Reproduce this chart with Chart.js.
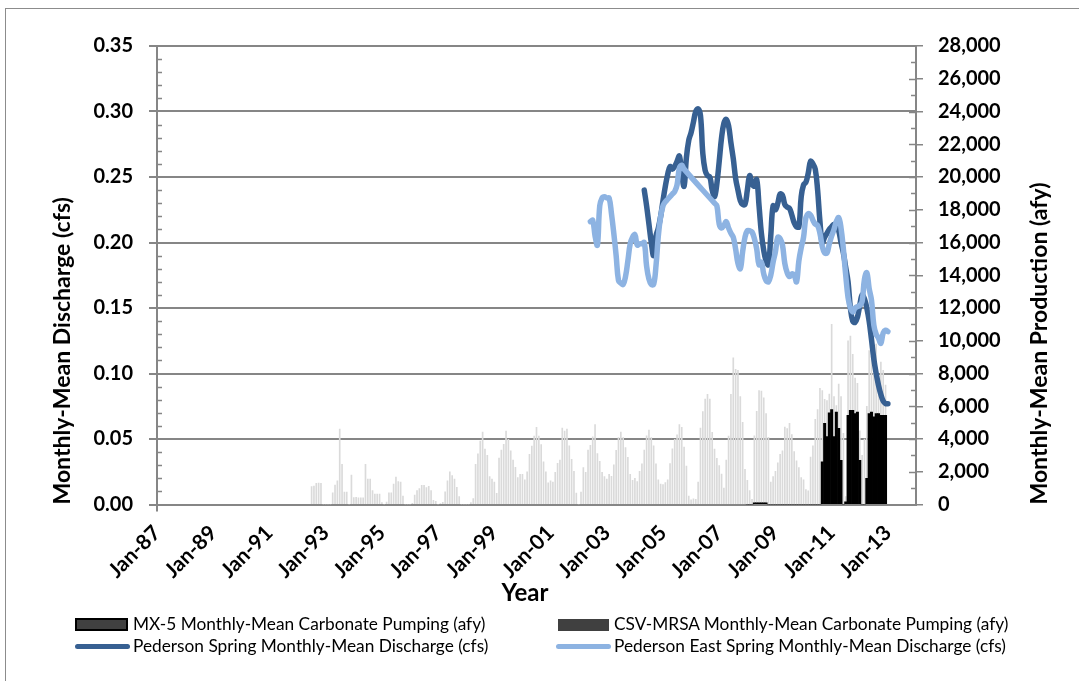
<!DOCTYPE html>
<html>
<head>
<meta charset="utf-8">
<script src="https://cdn.jsdelivr.net/npm/chart.js@4.4.1/dist/chart.umd.min.js"></script>
<style>
  html, body { margin: 0; padding: 0; background: #fff; }
  #wrap { position: relative; width: 1079px; height: 681px; overflow: hidden; font-family: Lato, "Noto Sans", sans-serif; }
  #frame { position: absolute; left: 5px; top: 8px; width: 1200px; height: 800px; border-left: 1px solid #8c8c8c; border-top: 1px solid #8c8c8c; }
  #chart { position: absolute; left: 0; top: 0; }
  .key { position: absolute; height: 20px; line-height: 20px; font-size: 17.3px; color: #000; white-space: nowrap; }
  .swatch { position: absolute; }
</style>
</head>
<body>
<div id="wrap">
  <div id="frame"></div>
  <canvas id="chart" width="1079" height="681"></canvas>

  <div class="swatch" style="left:75px;top:618px;width:49px;height:9px;background:#404040;border:2px solid #000;"></div>
  <div class="key" style="left:133px;top:614px;">MX-5 Monthly-Mean Carbonate Pumping (afy)</div>
  <div class="swatch" style="left:558px;top:619px;width:51px;height:12px;background:#404040;"></div>
  <div class="key" style="left:614px;top:614px;">CSV-MRSA Monthly-Mean Carbonate Pumping (afy)</div>

  <div class="swatch" style="left:75px;top:644px;width:55px;height:5px;background:#376092;border-radius:3px;"></div>
  <div class="key" style="left:133px;top:636px;">Pederson Spring Monthly-Mean Discharge (cfs)</div>
  <div class="swatch" style="left:556px;top:644px;width:55px;height:5px;background:#8db3e2;border-radius:3px;"></div>
  <div class="key" style="left:614px;top:636px;">Pederson East Spring Monthly-Mean Discharge (cfs)</div>
</div>

<script>
// Month axis: Jan-87 through Jan-14
const MONTH_NAMES = ['Jan', 'Feb', 'Mar', 'Apr', 'May', 'Jun', 'Jul', 'Aug', 'Sep', 'Oct', 'Nov', 'Dec'];
const monthLabels = [];
for (let yr = 1987; yr < 2014; yr++) {
  for (let m = 0; m < 12; m++) monthLabels.push(MONTH_NAMES[m] + '-' + String(yr % 100).padStart(2, '0'));
}
monthLabels.push('Jan-14');

// CSV-MRSA monthly-mean carbonate pumping (afy), Jul-92 .. Dec-12
const csvStart = 'Jul-92';
const csvPumping = [
  1090, 1130, 1290, 1310, 1290, 0,                                  // 1992 Jul-Dec
  0, 0, 0, 720, 1190, 1440, 4610, 2450, 760, 760, 0, 1800,          // 1993
  420, 440, 400, 400, 400, 2450, 1560, 1560, 850, 640, 640, 640,    // 1994
  110, 0, 150, 720, 720, 1250, 1680, 1400, 1370, 520, 0, 0,         // 1995
  0, 70, 580, 850, 970, 1170, 1170, 1030, 1110, 850, 250, 190,      // 1996
  0, 50, 130, 780, 1440, 2000, 1760, 1560, 1050, 480, 0, 0,         // 1997
  0, 0, 110, 360, 2450, 3090, 3880, 4430, 3390, 3000, 1700, 1560,   // 1998
  1370, 680, 2840, 3330, 3680, 4490, 3980, 3270, 2720, 2270, 1640, 1840, // 1999
  1840, 1500, 2000, 3060, 3570, 4180, 4710, 4180, 3660, 2600, 1990, 1330, // 2000
  1440, 1370, 1970, 2510, 2720, 4670, 4490, 4610, 3590, 2760, 2030, 700,  // 2001
  0, 760, 2250, 1970, 3330, 3610, 4140, 4880, 3110, 2640, 1970, 1700,     // 2002
  1560, 1840, 1720, 2430, 3310, 4080, 4430, 4080, 3470, 2880, 1840, 1480, // 2003
  1600, 1400, 2030, 2490, 3330, 4200, 4550, 4080, 3590, 2490, 1500, 1250, // 2004
  1210, 1340, 1500, 2500, 3400, 3980, 4250, 4880, 4710, 3510, 2350, 520,  // 2005
  280, 340, 320, 1370, 4670, 5670, 6440, 6730, 6440, 4410, 3390, 2820,    // 2006
  2370, 1860, 1010, 2720, 4180, 6730, 8950, 8260, 8200, 6590, 5020, 2150, // 2007
  1480, 850, 320, 4200, 5690, 6950, 6930, 6510, 5550, 4100, 1370, 1700,   // 2008
  2030, 2540, 3060, 3270, 4730, 4630, 4960, 4270, 3230, 2660, 2250, 1640, // 2009
  1500, 910, 830, 2900, 3590, 5200, 5790, 7100, 6950, 6420, 6340, 6750,   // 2010
  11000, 6590, 6040, 7360, 6590, 4350, 480, 10000, 10290, 9170, 7720, 7400, // 2011
  4500, 3000, 4000, 6000, 9400, 9070, 8000, 9800, 7000, 8700, 8200, 7300  // 2012
];

// MX-5 monthly-mean carbonate pumping (afy), Jan-08 .. Dec-12
const mx5Start = 'Jan-08';
const mx5Pumping = [
  0, 0, 0, 100, 100, 100, 100, 100, 100, 0, 0, 0,                   // 2008
  0, 0, 0, 0, 0, 0, 0, 0, 0, 0, 0, 0,                               // 2009
  0, 0, 0, 0, 0, 0, 0, 0, 2600, 4950, 4150, 5600,                   // 2010
  5800, 4150, 5650, 4650, 2700, 0, 170, 5450, 5750, 5750, 5550, 5650, // 2011
  2700, 0, 0, 1600, 5550, 5650, 5350, 5550, 5550, 5450, 5450, 5450  // 2012
];

// Pederson Spring monthly-mean discharge (cfs), May-04 .. Jan-13
const pedersonStart = 'May-04';
const pedersonSpring = [
  0.240, 0.228, 0.214, 0.200, 0.190, 0.205, 0.211, 0.220,                         // 2004 May-Dec
  0.232, 0.243, 0.252, 0.258, 0.256, 0.258, 0.262, 0.266, 0.252, 0.243, 0.265, 0.278, // 2005
  0.284, 0.292, 0.300, 0.302, 0.297, 0.268, 0.255, 0.251, 0.250, 0.240, 0.235, 0.245, // 2006
  0.262, 0.280, 0.291, 0.294, 0.289, 0.276, 0.264, 0.249, 0.240, 0.232, 0.229, 0.229, // 2007
  0.240, 0.251, 0.245, 0.243, 0.248, 0.228, 0.207, 0.194, 0.186, 0.183, 0.205, 0.228, // 2008
  0.225, 0.230, 0.237, 0.236, 0.229, 0.227, 0.226, 0.221, 0.215, 0.212, 0.212, 0.235, // 2009
  0.244, 0.246, 0.253, 0.262, 0.260, 0.256, 0.240, 0.216, 0.200, 0.204, 0.207, 0.210, // 2010
  0.212, 0.214, 0.212, 0.209, 0.200, 0.192, 0.181, 0.170, 0.150, 0.140, 0.139, 0.143, // 2011
  0.152, 0.160, 0.157, 0.150, 0.140, 0.126, 0.111, 0.100, 0.091, 0.084, 0.079, 0.077, // 2012
  0.077                                                                            // 2013 Jan
];

// Pederson East Spring monthly-mean discharge (cfs), Jun-02 .. Jan-13 (null = no record)
const pedersonEastStart = 'Jun-02';
const pedersonEastSpring = [
  0.216, 0.217, 0.205, 0.198, 0.228, 0.234, 0.235,                               // 2002 Jun-Dec
  0.234, 0.234, 0.222, 0.207, 0.190, 0.171, 0.169, 0.168, 0.174, 0.186, 0.199, 0.204, // 2003
  0.206, 0.198, 0.199, 0.199, 0.200, 0.182, 0.172, 0.168, 0.168, 0.182, 0.205, 0.220, // 2004
  0.228, 0.231, 0.233, 0.235, 0.237, 0.239, 0.244, 0.257, 0.259, 0.256, null, null,   // 2005
  null, null, null, null, null, null, null, null, null, null, 0.230, 0.228,           // 2006
  0.214, 0.211, 0.213, 0.216, 0.211, 0.207, 0.204, 0.195, 0.184, 0.180, 0.193, 0.204, // 2007
  0.209, 0.209, 0.208, 0.203, 0.195, 0.183, 0.185, 0.176, 0.171, 0.170, 0.175, 0.185, // 2008
  0.193, 0.204, 0.203, 0.198, 0.184, 0.177, 0.174, 0.176, 0.175, 0.170, 0.186, 0.196, // 2009
  0.204, 0.219, 0.222, 0.221, 0.217, 0.214, 0.213, 0.207, 0.197, 0.192, 0.192, 0.199, // 2010
  0.205, 0.210, 0.216, 0.219, 0.211, 0.195, 0.175, 0.158, 0.150, 0.147, 0.150, 0.151, // 2011
  0.152, 0.155, 0.172, 0.177, 0.165, 0.156, 0.137, 0.130, 0.127, 0.123, 0.131, 0.133, // 2012
  0.132                                                                            // 2013 Jan
];

// spread a series over the full month axis
function onAxis(startLabel, values) {
  const out = new Array(monthLabels.length).fill(null);
  const at = monthLabels.indexOf(startLabel);
  values.forEach((v, i) => { out[at + i] = v; });
  return out;
}

const GRID = '#868686';
const tickFont = { family: 'Lato', weight: 'bold', size: 20 };
const titleFont = { family: 'Lato', weight: 'bold', size: 23 };

// minor tick marks, the "Year" title and the right-hand axis title (reads bottom to top)
const axisExtras = {
  id: 'axisExtras',
  afterDraw(chart) {
    const { ctx, chartArea: area, scales: { y, y1 } } = chart;
    ctx.save();
    ctx.strokeStyle = GRID;
    ctx.lineWidth = 1.5;
    ctx.beginPath();
    for (let i = 1; i < 35; i++) {
      if (i % 5 === 0) continue;
      const py = Math.round(y.getPixelForValue(i / 100)) + 0.5;
      ctx.moveTo(area.left, py);
      ctx.lineTo(area.left + 5, py);
    }
    for (let i = 1; i < 28; i++) {
      const py = Math.round(y1.getPixelForValue(i * 1000)) + 0.5;
      ctx.moveTo(area.right - (i % 2 ? 5 : 7), py);
      ctx.lineTo(area.right, py);
    }
    ctx.stroke();

    ctx.fillStyle = '#000';
    ctx.textBaseline = 'middle';
    ctx.font = 'bold 24px Lato';
    ctx.textAlign = 'center';
    ctx.fillText('Year', 525, 593);

    ctx.translate(1040, area.bottom);
    ctx.rotate(-Math.PI / 2);
    ctx.font = 'bold 23px Lato';
    ctx.textAlign = 'left';
    ctx.fillText('Monthly-Mean Production (afy)', 0, 0);
    ctx.restore();
  }
};

new Chart(document.getElementById('chart'), {
  type: 'bar',
  data: {
    labels: monthLabels,
    datasets: [
      {
        type: 'line',
        label: 'Pederson East Spring Monthly-Mean Discharge (cfs)',
        data: onAxis(pedersonEastStart, pedersonEastSpring),
        yAxisID: 'y',
        borderColor: '#8db3e2',
        borderWidth: 5.5,
        pointRadius: 0,
        tension: 0.4,
        spanGaps: true,
        borderCapStyle: 'round',
        borderJoinStyle: 'round',
        order: 1
      },
      {
        type: 'line',
        label: 'Pederson Spring Monthly-Mean Discharge (cfs)',
        data: onAxis(pedersonStart, pedersonSpring),
        yAxisID: 'y',
        borderColor: '#376092',
        borderWidth: 5.5,
        pointRadius: 0,
        tension: 0.4,
        borderCapStyle: 'round',
        borderJoinStyle: 'round',
        order: 2
      },
      {
        label: 'MX-5 Monthly-Mean Carbonate Pumping (afy)',
        data: onAxis(mx5Start, mx5Pumping),
        yAxisID: 'y1',
        backgroundColor: '#000',
        barPercentage: 1,
        categoryPercentage: 1,
        grouped: false,
        order: 3
      },
      {
        label: 'CSV-MRSA Monthly-Mean Carbonate Pumping (afy)',
        data: onAxis(csvStart, csvPumping),
        yAxisID: 'y1',
        backgroundColor: '#dadada',
        barThickness: 1,
        grouped: false,
        order: 4
      }
    ]
  },
  options: {
    responsive: false,
    animation: false,
    events: [],
    layout: { padding: { left: 45, right: 20, top: 46, bottom: 68.5 } },
    plugins: { legend: { display: false }, tooltip: { enabled: false } },
    scales: {
      x: {
        type: 'category',
        offset: false,
        afterFit(scale) { scale.height = 108; },
        grid: {
          offset: false,
          drawOnChartArea: false,
          tickLength: 7,
          lineWidth: 2,
          color: ctx => (ctx.index % 24 === 0 ? GRID : 'rgba(0,0,0,0)')
        },
        border: { color: GRID, width: 2 },
        ticks: {
          autoSkip: false,
          minRotation: 45,
          maxRotation: 45,
          padding: 9,
          color: '#000',
          font: { family: 'Lato', weight: 'bold', size: 21 },
          callback(value, index) { return index % 24 === 0 ? this.getLabelForValue(value) : null; }
        }
      },
      y: {
        position: 'left',
        min: 0,
        max: 0.35,
        afterFit(scale) { scale.width = 112; },
        grid: { color: GRID, lineWidth: 2, tickLength: 8 },
        border: { color: GRID, width: 2 },
        ticks: { stepSize: 0.05, padding: 16, color: '#000', font: tickFont, callback: v => v.toFixed(2) },
        title: { display: true, text: 'Monthly-Mean Discharge (cfs)', align: 'start', color: '#000', font: titleFont, padding: { top: 4, bottom: 0 } }
      },
      y1: {
        position: 'right',
        min: 0,
        max: 28000,
        afterFit(scale) { scale.width = 143; },
        grid: { drawOnChartArea: false, color: GRID, lineWidth: 1.5, tickLength: 7 },
        border: { color: GRID, width: 2 },
        ticks: { stepSize: 2000, padding: 15, color: '#000', font: tickFont, callback: v => v.toLocaleString('en-US') }
      }
    }
  },
  plugins: [axisExtras]
});
</script>
</body>
</html>
